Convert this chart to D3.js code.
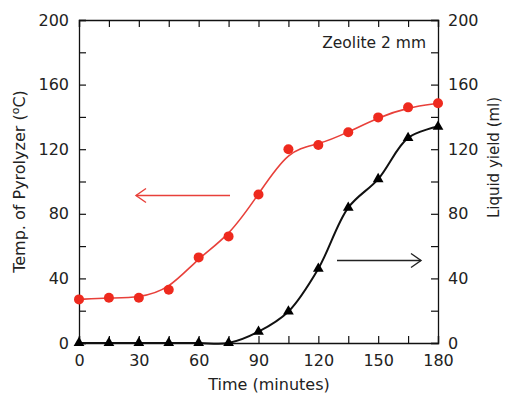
<!DOCTYPE html>
<html>
<head>
<meta charset="utf-8">
<script src="https://cdn.jsdelivr.net/npm/d3@7"></script>
<style>
  body { margin: 0; background: #fff; }
  text { font-family: "DejaVu Sans", Verdana, sans-serif; fill: #222; }
</style>
</head>
<body>
<div id="chart"></div>
<script>
width = 505
height = 398

// data
let times = [0, 15, 30, 45, 60, 75, 90, 105, 120, 135, 150, 165, 180]
let tempValues = [27, 28, 28, 33, 53, 66, 92, 120, 122.6, 130.5, 139.7, 145.9, 148.4]
let yieldValues = [0, 0, 0, 0, 0, 0, 7, 19.5, 46, 83.8, 101.5, 127, 134]
let xTicks = [0, 30, 60, 90, 120, 150, 180]
let yTicks = [0, 40, 80, 120, 160, 200]

let margin = { left: 79, right: 67, top: 20, bottom: 55 }
let x0 = margin.left, x1 = width - margin.right
let y0 = height - margin.bottom, y1 = margin.top

let svg = d3.select("#chart")
    .append("svg")
    .attr("width", width)
    .attr("height", height)

let x = d3.scaleLinear().domain([0, 180]).range([x0, x1])
let yLeft = d3.scaleLinear().domain([0, 200]).range([y0, y1])
let yRight = d3.scaleLinear().domain([0, 200]).range([y0, y1])

let tickLen = 7
let fmt = d => (xTicks.includes(d) ? d : "")
let fmtY = d => (yTicks.includes(d) ? d : "")

// axes, ticks point inward
let axes = svg.append("g").attr("class", "axes")

axes.append("g")
    .attr("transform", "translate(0," + y0 + ")")
    .call(d3.axisBottom(x).tickValues(d3.range(0, 181, 15)).tickSize(-tickLen).tickPadding(12).tickFormat(fmt))

axes.append("g")
    .attr("transform", "translate(0," + y1 + ")")
    .call(d3.axisTop(x).tickValues(d3.range(0, 181, 15)).tickSize(-tickLen).tickFormat(""))

axes.append("g")
    .attr("transform", "translate(" + x0 + ",0)")
    .call(d3.axisLeft(yLeft).tickValues(d3.range(0, 201, 20)).tickSize(-tickLen).tickPadding(10).tickFormat(fmtY))

axes.append("g")
    .attr("transform", "translate(" + x1 + ",0)")
    .call(d3.axisRight(yRight).tickValues(d3.range(0, 201, 20)).tickSize(-tickLen).tickPadding(10).tickFormat(fmtY))

axes.selectAll(".domain").attr("stroke", "#111").attr("stroke-width", 1.3)
axes.selectAll(".tick line").attr("stroke", "#111").attr("stroke-width", 1.2)
axes.selectAll(".tick text")
    .style("font-family", "DejaVu Sans, Verdana, sans-serif")
    .style("font-size", "16px")
    .attr("fill", "#222")

// curves
let tempData = times.map((t, i) => ({ t: t, v: tempValues[i] }))
let yieldData = times.map((t, i) => ({ t: t, v: yieldValues[i] }))

let tempLine = d3.line().x(d => x(d.t)).y(d => yLeft(d.v)).curve(d3.curveBasis)
let yieldLine = d3.line().x(d => x(d.t)).y(d => Math.min(y0, yRight(d.v))).curve(d3.curveCatmullRom.alpha(0.5))

svg.append("path")
    .datum(yieldData)
    .attr("d", yieldLine)
    .attr("fill", "none")
    .attr("stroke", "#111")
    .attr("stroke-width", 2)

svg.append("path")
    .datum(tempData)
    .attr("d", tempLine)
    .attr("fill", "none")
    .attr("stroke", "#e8403a")
    .attr("stroke-width", 1.6)

svg.append("g")
    .selectAll("circle")
    .data(tempData)
    .join("circle")
    .attr("cx", d => x(d.t))
    .attr("cy", d => yLeft(d.v))
    .attr("r", 5)
    .attr("fill", "#ee2a1e")

let tri = d3.symbol().type(d3.symbolTriangle).size(50)
svg.append("g")
    .selectAll("path")
    .data(yieldData)
    .join("path")
    .attr("d", tri)
    .attr("transform", d => "translate(" + x(d.t) + "," + yRight(d.v) + ")")
    .attr("fill", "#000")

// arrows
function arrow(xa, xb, y, color, dir) {
    let g = svg.append("g").attr("stroke", color).attr("fill", "none").attr("stroke-width", 1.4)
    g.append("line").attr("x1", xa).attr("x2", xb).attr("y1", y).attr("y2", y)
    let tip = dir < 0 ? xa : xb
    g.append("path").attr("d", "M" + (tip - dir * 10) + "," + (y - 7) + "L" + tip + "," + y + "L" + (tip - dir * 10) + "," + (y + 7))
}
arrow(136, 230, 195.5, "#e8403a", -1)
arrow(337, 421, 260.5, "#222", 1)

// labels
svg.append("text")
    .attr("x", 426)
    .attr("y", 48)
    .attr("text-anchor", "end")
    .style("font-size", "15.5px")
    .text("Zeolite 2 mm")

svg.append("text")
    .attr("x", 269)
    .attr("y", 390)
    .attr("text-anchor", "middle")
    .style("font-size", "16px")
    .text("Time (minutes)")

let leftTitle = svg.append("text")
    .attr("transform", "translate(25," + ((y0 + y1) / 2) + ") rotate(-90)")
    .attr("text-anchor", "middle")
    .style("font-size", "16px")
leftTitle.append("tspan").text("Temp. of Pyrolyzer (")
leftTitle.append("tspan").attr("dy", -6).style("font-size", "11px").text("o")
leftTitle.append("tspan").attr("dy", 6).text("C)")

svg.append("text")
    .attr("transform", "translate(499," + ((y0 + y1) / 2 - 24) + ") rotate(-90)")
    .attr("text-anchor", "middle")
    .style("font-size", "15px")
    .text("Liquid yield (ml)")
</script>
</body>
</html>
